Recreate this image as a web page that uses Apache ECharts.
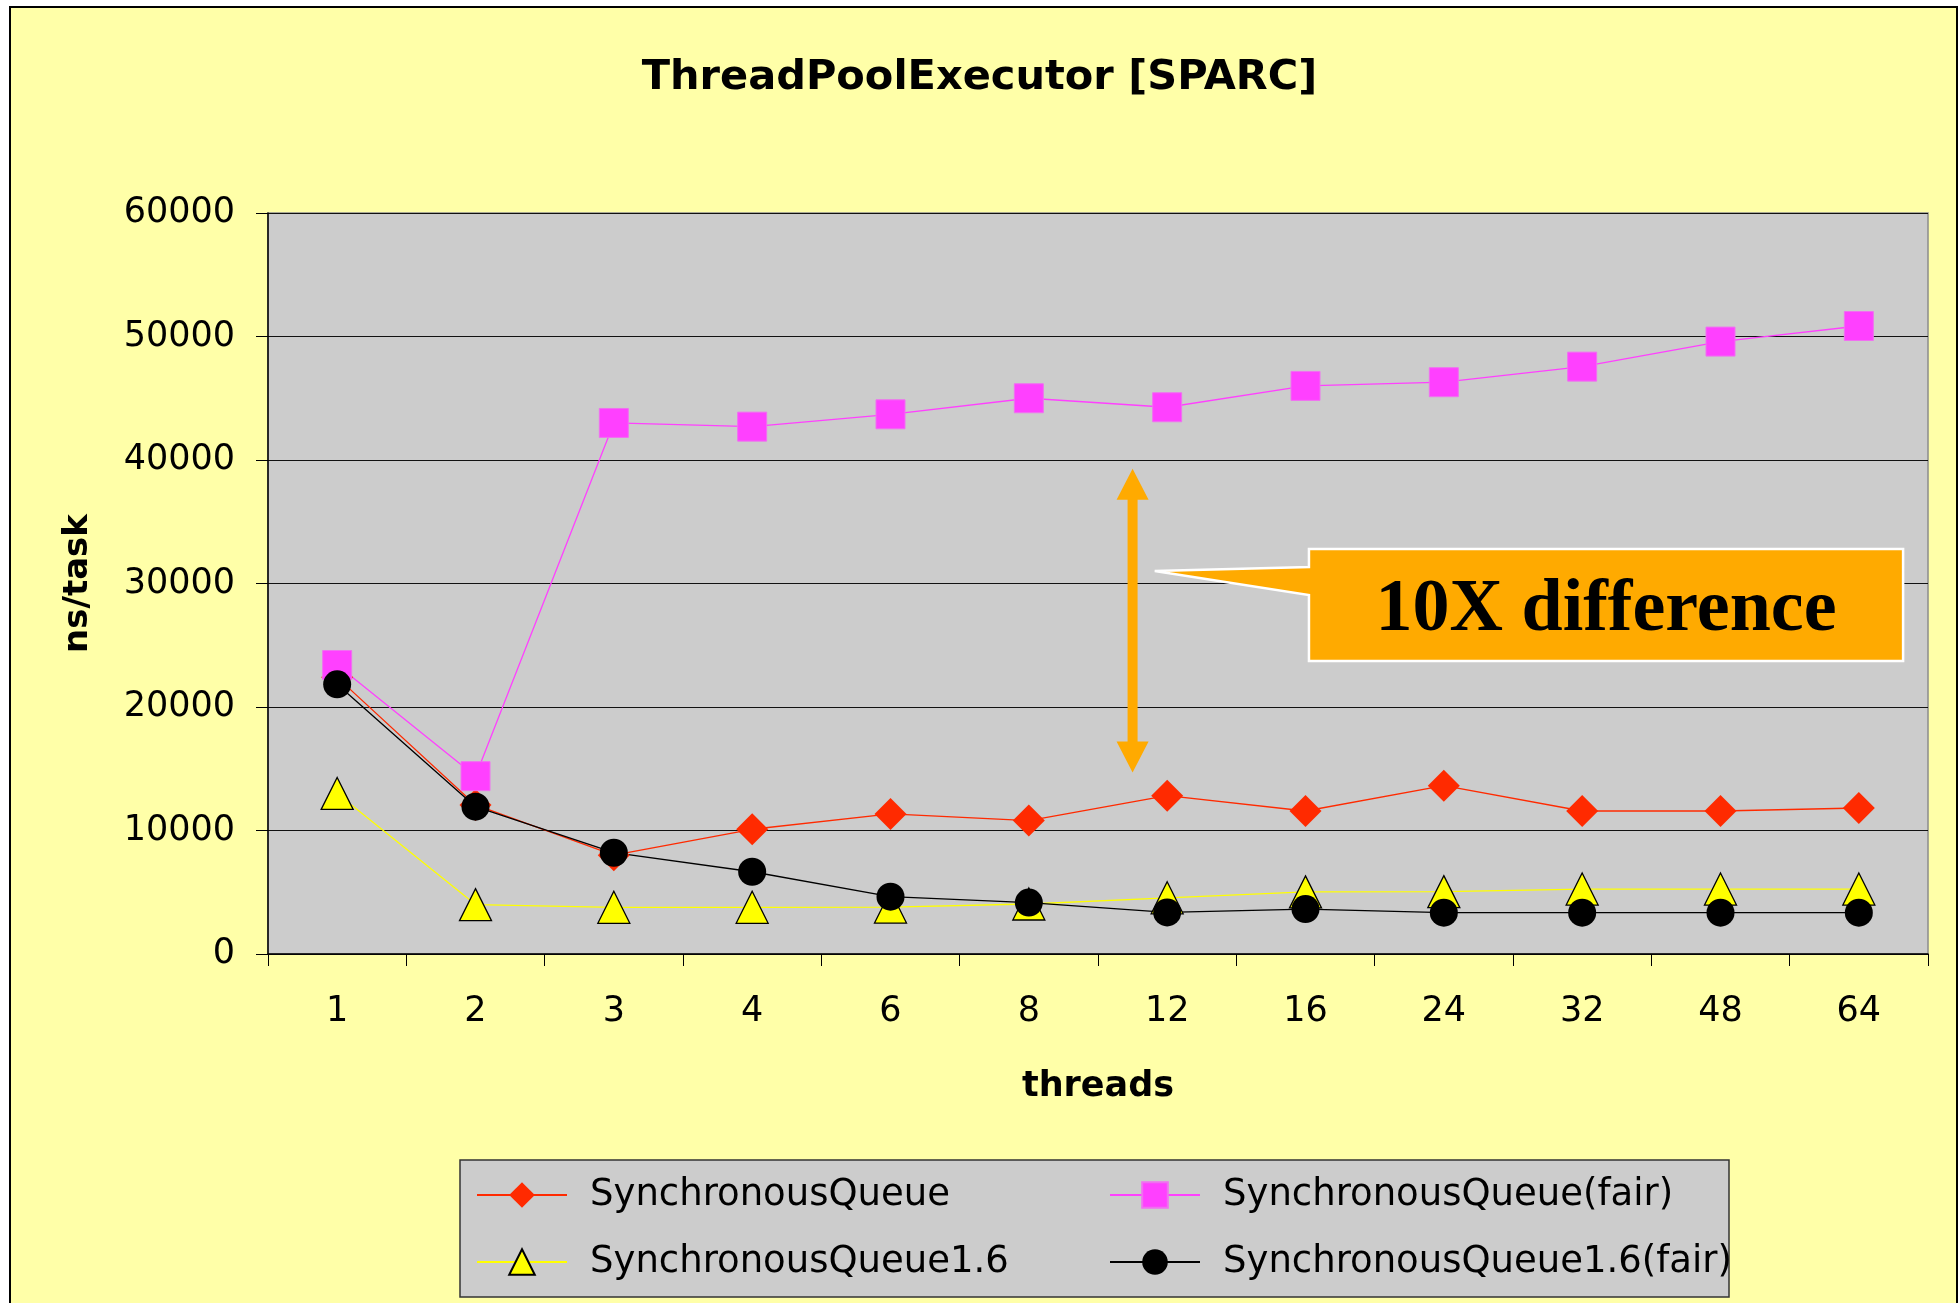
<!DOCTYPE html>
<html>
<head>
<meta charset="utf-8">
<script src="https://cdn.jsdelivr.net/npm/echarts@6/dist/echarts.min.js"></script>
<style>
  html, body { margin: 0; padding: 0; background: #ffffff; }
  #chart { width: 1959px; height: 1303px; }
</style>
</head>
<body>
<div id="chart"></div>
<script>
// Thread counts on the x axis
const threads = ['1', '2', '3', '4', '6', '8', '12', '16', '24', '32', '48', '64'];

// ns per task for each queue variant
const syncQueue       = [22400, 12070, 8000, 10100, 11340, 10800, 12820, 11580, 13630, 11580, 11580, 11820];
const syncQueueFair   = [23400, 14400, 43000, 42700, 43700, 45000, 44270, 46000, 46300, 47560, 49590, 50850];
const syncQueue16     = [13000, 4000, 3780, 3780, 3800, 4050, 4550, 5030, 5050, 5260, 5260, 5260];
const syncQueue16Fair = [21840, 11930, 8200, 6660, 4640, 4160, 3370, 3640, 3350, 3350, 3350, 3350];

// Value axis range
const yMin = 0, yMax = 60000, yStep = 10000;

// Annotation anchors: [category index (fractional), ns/task]
const arrowX = 5.75, arrowTop = 39300, arrowBottom = 14700;
const calloutTopLeft = [7.025, 32790];
const calloutBottomRight = [11.32, 23720];
const calloutTip = [5.91, 31010];
const calloutJoinTop = 31340, calloutJoinBottom = 29070;
const calloutText = '10X difference';

(function () {
  const FONT = "'DejaVu Sans', Verdana, sans-serif";

  const chart = echarts.init(document.getElementById('chart'), null, { renderer: 'canvas' });

  const legendCommon = {
    orient: 'vertical',
    itemWidth: 90,
    itemHeight: 32,
    itemGap: 27,
    padding: 0,
    selectedMode: false,
    textStyle: { fontFamily: FONT, fontSize: 37, lineHeight: 40, color: '#000', padding: [0, 0, 0, 18] }
  };

  const option = {
    animation: false,
    backgroundColor: '#ffffff',
    title: {
      text: 'ThreadPoolExecutor [SPARC]',
      left: 'center',
      top: 54,
      padding: [0, 0, 0, 17],
      textStyle: { fontFamily: FONT, fontWeight: 'bold', fontSize: 41.5, lineHeight: 48, color: '#000' }
    },
    grid: {
      left: 268, top: 213, right: 31, bottom: 349,
      outerBoundsMode: 'none',
      containLabel: false,
      show: true,
      backgroundColor: '#CCCCCC',
      borderColor: '#8c8c8c',
      borderWidth: 1.5
    },
    legend: [
      Object.assign({}, legendCommon, { left: 476, top: 1175, data: ['SynchronousQueue', 'SynchronousQueue1.6'] }),
      Object.assign({}, legendCommon, { left: 1109, top: 1175, data: ['SynchronousQueue(fair)', 'SynchronousQueue1.6(fair)'] })
    ],
    xAxis: {
      type: 'category',
      data: threads,
      boundaryGap: true,
      name: 'threads',
      nameLocation: 'middle',
      nameGap: 115,
      nameTextStyle: { fontFamily: FONT, fontWeight: 'bold', fontSize: 35, color: '#000' },
      axisLine: { show: true, lineStyle: { color: '#000', width: 1.5 } },
      axisTick: { show: true, interval: 0, length: 12, inside: false, lineStyle: { color: '#000', width: 1 } },
      axisLabel: { interval: 0, fontFamily: FONT, fontSize: 35, lineHeight: 40, margin: 38, color: '#000' },
      splitLine: { show: false }
    },
    yAxis: {
      type: 'value',
      min: yMin, max: yMax, interval: yStep,
      name: 'ns/task',
      nameLocation: 'middle',
      nameRotate: 90,
      nameGap: 173,
      nameTextStyle: { fontFamily: FONT, fontWeight: 'bold', fontSize: 34, color: '#000' },
      axisLine: { show: true, lineStyle: { color: '#000', width: 1.5 } },
      axisTick: { show: true, length: 12, inside: false, lineStyle: { color: '#000', width: 1 } },
      axisLabel: {
        fontFamily: FONT, fontSize: 35, margin: 33, color: '#000',
        formatter: function (v) { return String(v); }
      },
      splitLine: { show: true, lineStyle: { color: '#111', width: 1.2 } }
    },
    series: [
      {
        name: 'SynchronousQueue', type: 'line', data: syncQueue,
        symbol: 'diamond', symbolSize: 32,
        lineStyle: { color: '#FF2A00', width: 1.3 },
        itemStyle: { color: '#FF2A00', borderWidth: 0 }
      },
      {
        name: 'SynchronousQueue(fair)', type: 'line', data: syncQueueFair,
        symbol: 'rect', symbolSize: 29,
        lineStyle: { color: '#FF40FF', width: 1.3 },
        itemStyle: { color: '#FF40FF', borderColor: '#F070F0', borderWidth: 1 }
      },
      {
        name: 'SynchronousQueue1.6', type: 'line', data: syncQueue16,
        symbol: 'triangle', symbolSize: 32,
        lineStyle: { color: '#FFFF00', width: 1.3 },
        itemStyle: { color: '#FFFF00', borderColor: '#000', borderWidth: 1.3 }
      },
      {
        name: 'SynchronousQueue1.6(fair)', type: 'line', data: syncQueue16Fair,
        symbol: 'circle', symbolSize: 28,
        lineStyle: { color: '#000', width: 1.3 },
        itemStyle: { color: '#000', borderWidth: 0 }
      }
    ],
    graphic: {
      elements: [
        {
          id: 'chartArea', type: 'rect', z: -10, silent: true,
          shape: { x: 10, y: 7, width: 1947, height: 1320 },
          style: { fill: '#FFFFA8', stroke: '#000', lineWidth: 2 }
        },
        {
          id: 'legendBox', type: 'rect', z: 1, silent: true,
          shape: { x: 460, y: 1160, width: 1269, height: 137 },
          style: { fill: '#CCCCCC', stroke: '#333', lineWidth: 1.5 }
        }
      ]
    }
  };

  chart.setOption(option);

  // Pixel position for a fractional category index and a value
  function toPx(idx, val) {
    const i0 = Math.max(0, Math.min(Math.floor(idx), threads.length - 2));
    const p0 = chart.convertToPixel({ gridIndex: 0 }, [i0, val]);
    const p1 = chart.convertToPixel({ gridIndex: 0 }, [i0 + 1, val]);
    const t = idx - i0;
    return [p0[0] + (p1[0] - p0[0]) * t, p0[1]];
  }

  // Double-headed arrow spanning the gap between the fair and non-fair queues
  const aTop = toPx(arrowX, arrowTop);
  const aBot = toPx(arrowX, arrowBottom);
  const cx = aTop[0], headLen = 31, headHalf = 16, shaftHalf = 5;
  const arrowPts = [
    [cx, aTop[1]],
    [cx + headHalf, aTop[1] + headLen],
    [cx + shaftHalf, aTop[1] + headLen],
    [cx + shaftHalf, aBot[1] - headLen],
    [cx + headHalf, aBot[1] - headLen],
    [cx, aBot[1]],
    [cx - headHalf, aBot[1] - headLen],
    [cx - shaftHalf, aBot[1] - headLen],
    [cx - shaftHalf, aTop[1] + headLen],
    [cx - headHalf, aTop[1] + headLen]
  ];

  // Callout box with a pointer towards the arrow
  const tl = toPx(calloutTopLeft[0], calloutTopLeft[1]);
  const br = toPx(calloutBottomRight[0], calloutBottomRight[1]);
  const tip = toPx(calloutTip[0], calloutTip[1]);
  const jt = toPx(calloutTopLeft[0], calloutJoinTop);
  const jb = toPx(calloutTopLeft[0], calloutJoinBottom);
  const calloutPts = [
    [tl[0], tl[1]], [br[0], tl[1]], [br[0], br[1]], [tl[0], br[1]],
    [tl[0], jb[1]], [tip[0], tip[1]], [tl[0], jt[1]]
  ];

  chart.setOption({
    graphic: {
      elements: [
        {
          id: 'diffArrow', type: 'polygon', z: 10, silent: true,
          shape: { points: arrowPts },
          style: { fill: '#FFAA00', stroke: null }
        },
        {
          id: 'calloutShape', type: 'polygon', z: 10, silent: true,
          shape: { points: calloutPts },
          style: { fill: '#FFAA00', stroke: '#FFFFFF', lineWidth: 2.5 }
        },
        {
          id: 'calloutLabel', type: 'text', z: 11, silent: true,
          x: (tl[0] + br[0]) / 2, y: (tl[1] + br[1]) / 2 + 6,
          style: {
            text: calloutText,
            fill: '#000',
            font: "bold 74px 'Liberation Serif', 'Times New Roman', serif",
            align: 'center',
            verticalAlign: 'middle'
          }
        }
      ]
    }
  });
})();
</script>
</body>
</html>
